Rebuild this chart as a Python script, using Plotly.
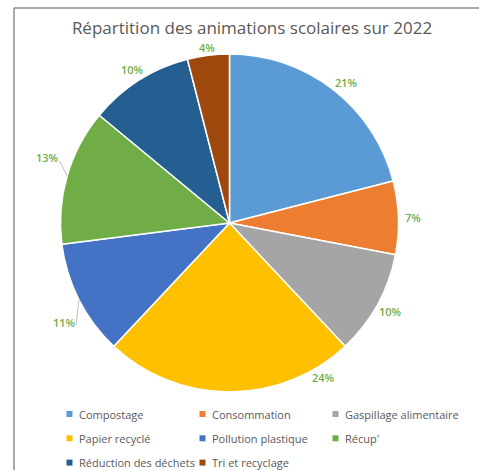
import math
import plotly.graph_objects as go

categories = ["Compostage", "Consommation", "Gaspillage alimentaire", "Papier recyclé",
              "Pollution plastique", "Récup'", "Réduction des déchets", "Tri et recyclage"]
values = [21, 7, 10, 24, 11, 13, 10, 4]
colors = ["#5B9BD5", "#ED7D31", "#A5A5A5", "#FFC000", "#4472C4", "#70AD47", "#255E91", "#9E480E"]

# label placement tweaks (Excel "best fit" look)
label_angle_nudge = {"Compostage": 2, "Papier recyclé": -31.4, "Pollution plastique": -4, "Récup'": 3.5}
leader_labels = {"Pollution plastique", "Récup'"}

W, H = 479, 470
CX, CY, R = 229.5, 223, 169


def px(x):
    return x / W


def py(y):
    return 1 - y / H


fig = go.Figure(go.Pie(
    labels=categories,
    values=values,
    sort=False,
    direction="clockwise",
    rotation=0,
    marker=dict(colors=colors, line=dict(color="white", width=1.5)),
    textinfo="none",
    domain=dict(x=[px(CX - R), px(CX + R)], y=[py(CY + R), py(CY - R)]),
    hoverinfo="label+percent",
    showlegend=False,
))

annotations = []
shapes = [
    dict(type="line", xref="paper", yref="paper", x0=px(14), x1=px(14), y0=py(8), y1=-0.1,
         line=dict(color="#8C8C8C", width=1.5)),
    dict(type="line", xref="paper", yref="paper", x0=px(14), x1=1.1, y0=py(8), y1=py(8),
         line=dict(color="#8C8C8C", width=1.5)),
]

# data labels
total = sum(values)
cum = 0
for cat, v in zip(categories, values):
    mid = (cum + v / 2) / total * 360
    cum += v
    ang = math.radians(mid + label_angle_nudge.get(cat, 0))
    s, c = math.sin(ang), math.cos(ang)
    d = R + 4 + 11 * abs(s) + 3 * abs(c) + (9 if cat in leader_labels else 0)
    lx, ly = CX + d * s, CY - d * c
    annotations.append(dict(
        x=px(lx), y=py(ly), xref="paper", yref="paper", showarrow=False,
        text=f"{round(v / total * 100)}%", xanchor="center", yanchor="middle",
        font=dict(family="Open Sans", size=11, color="#70AD47", weight=600)))
    if cat in leader_labels:
        m = math.radians(mid)
        ex, ey = CX + R * math.sin(m), CY - R * math.cos(m)
        shapes.append(dict(type="line", xref="paper", yref="paper",
                           x0=px(lx + 12), y0=py(ly + 3), x1=px(ex), y1=py(ey),
                           line=dict(color="#BFBFBF", width=1)))

# legend (3 columns, small square markers)
for i, (cat, col) in enumerate(zip(categories, colors)):
    cx0 = 66.5 + 133 * (i % 3)
    cy0 = 414 + 24.3 * (i // 3)
    shapes.append(dict(type="rect", xref="paper", yref="paper",
                       x0=px(cx0), x1=px(cx0 + 6), y0=py(cy0 - 3), y1=py(cy0 + 3),
                       fillcolor=col, line=dict(width=0)))
    annotations.append(dict(
        x=px(cx0 + 10), y=py(cy0), xref="paper", yref="paper", showarrow=False,
        text=cat, xanchor="left", yanchor="middle",
        font=dict(family="Open Sans", size=11, color="#595959")))

fig.update_layout(
    width=W, height=H,
    margin=dict(l=0, r=0, t=0, b=0),
    paper_bgcolor="white",
    title=dict(text="Répartition des animations scolaires sur 2022", x=px(252), xanchor="center",
               y=py(28), yanchor="middle",
               font=dict(family="Open Sans", size=17, color="#595959")),
    showlegend=False,
    annotations=annotations,
    shapes=shapes,
)

fig.write_html("out.html", config={"displayModeBar": False},
               post_script="document.documentElement.style.overflow='hidden';"
                           "document.body.style.margin='0px';document.body.style.overflow='hidden';")
